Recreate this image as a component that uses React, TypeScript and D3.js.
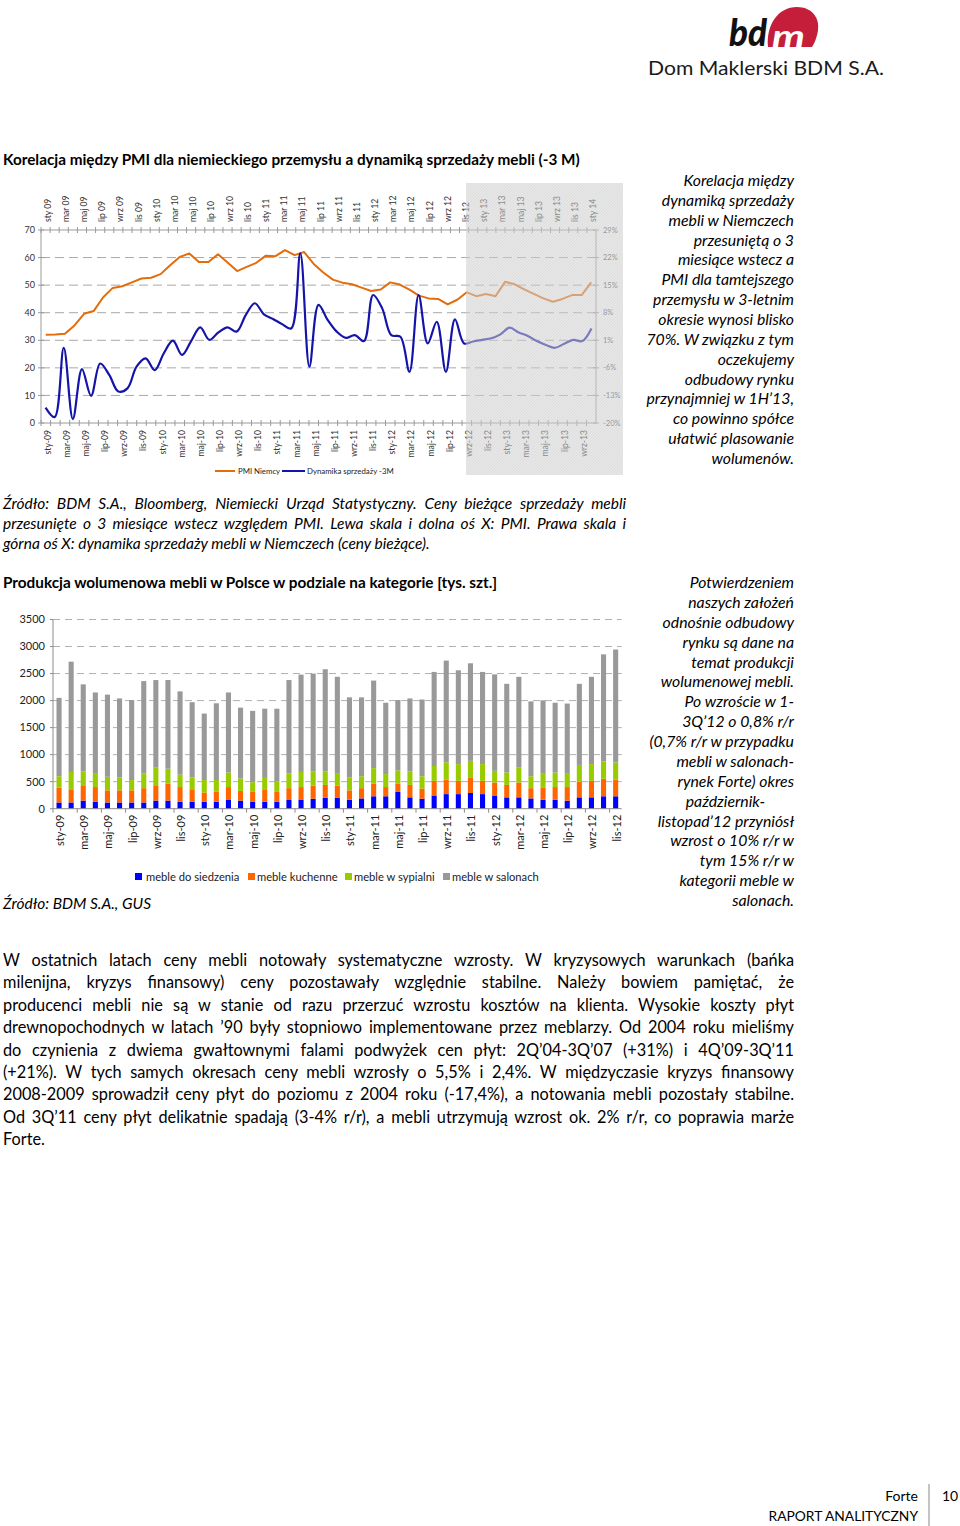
import React, { useLayoutEffect, useRef } from "react";
import * as d3 from "d3";

const FONT = "Lato, 'Open Sans', sans-serif";
const MONTHS = ["sty", "lut", "mar", "kwi", "maj", "cze", "lip", "sie", "wrz", "paź", "lis", "gru"];

function monthCats(n: number, sep: string): string[] {
  const out: string[] = [];
  for (let i = 0; i < n; i++) {
    const m = MONTHS[i % 12];
    const yy = String(9 + Math.floor(i / 12)).padStart(2, "0");
    out.push(m + sep + yy);
  }
  return out;
}

// Chart 1 categories
const bottomCats1 = monthCats(58, "-"); // sty-09 .. paź-13 (PMI)
const topCats1 = monthCats(61, " "); // sty 09 .. sty 14 (sales dynamics)
const leftTicks1 = [0, 10, 20, 30, 40, 50, 60, 70];
const rightTicks1 = [-20, -13, -6, 1, 8, 15, 22, 29];

// PMI Niemcy (left scale, bottom axis)
const pmiNiemcy = [
  32.0, 32.1, 32.4, 35.4, 39.6, 40.6, 45.6, 49.0, 49.6, 51.0, 52.4, 52.7,
  54.0, 57.2, 60.2, 61.5, 58.4, 58.4, 61.2, 58.2, 55.1, 56.6, 58.1, 60.7,
  60.5, 62.7, 60.9, 62.0, 57.7, 54.6, 52.0, 50.9, 50.3, 49.1, 47.9, 48.4,
  51.0, 50.2, 48.4, 46.2, 45.2, 45.0, 43.0, 44.7, 47.4, 46.0, 46.8, 46.0,
  51.2, 50.3, 48.5, 46.8, 45.2, 44.0, 45.0, 46.4, 46.4, 51.0,
];

// Dynamika sprzedaży -3M, % (right scale, top axis)
const dynamikaSprzedazy = [
  -16.1, -18.5, -0.9, -19.0, -6.3, -13.1, -4.9, -7.8, -12.0, -11.2, -5.7, -3.6,
  -6.6, -2.3, 0.9, -2.7, 0.8, 4.3, 1.1, 3.0, 4.3, 3.2, 7.4, 10.4,
  7.6, 6.4, 5.1, 4.0, 23.1, -5.7, 10.0, 6.2, 3.2, 1.6, 2.3, 0.8,
  12.5, 9.1, 2.3, 1.9, -7.0, 12.5, 0.2, 5.7, -7.0, 6.3, 0.2, 0.7,
  1.1, 1.5, 2.5, 4.2, 3.0, 2.1, 0.8, -0.2, -0.9, 0.1, 1.1, 0.8, 4.0,
];

// Chart 2
const cats2 = monthCats(47, "-"); // sty-09 .. lis-12
const yTicks2 = [0, 500, 1000, 1500, 2000, 2500, 3000, 3500];
const mebleDoSiedzenia = [
  115, 115, 150, 130, 115, 115, 115, 115, 150, 150, 130, 130, 130, 130, 170, 150,
  130, 130, 130, 170, 170, 185, 200, 200, 165, 190, 230, 230, 310, 210, 185, 245,
  270, 270, 290, 270, 245, 210, 210, 190, 165, 165, 148, 210, 210, 230, 230,
];
const mebleKuchenne = [
  275, 245, 270, 270, 225, 225, 225, 265, 270, 310, 270, 230, 170, 190, 230, 180,
  190, 230, 180, 210, 230, 240, 240, 225, 175, 190, 230, 170, 150, 230, 185, 270,
  265, 245, 290, 245, 240, 230, 275, 190, 230, 235, 252, 295, 305, 325, 305,
];
const mebleWSypialni = [
  210, 320, 270, 260, 250, 240, 190, 270, 340, 280, 230, 220, 230, 210, 270, 230,
  170, 210, 190, 270, 280, 265, 250, 235, 240, 220, 290, 240, 250, 250, 230, 275,
  325, 310, 305, 310, 215, 230, 275, 220, 265, 270, 245, 305, 310, 320, 320,
];
const mebleWSalonach = [
  1450, 2040, 1610, 1490, 1520, 1460, 1480, 1710, 1620, 1640, 1540, 1390, 1230, 1420, 1480, 1310,
  1320, 1280, 1350, 1730, 1800, 1810, 1890, 1780, 1480, 1460, 1620, 1320, 1300, 1350, 1420, 1740,
  1880, 1735, 1805, 1705, 1785, 1640, 1680, 1385, 1345, 1290, 1300, 1500, 1615, 1980, 2090,
];
const series2 = [
  { key: "siedz", name: "meble do siedzenia", color: "#0000ff", values: mebleDoSiedzenia },
  { key: "kuch", name: "meble kuchenne", color: "#ff6600", values: mebleKuchenne },
  { key: "syp", name: "meble w sypialni", color: "#99cc00", values: mebleWSypialni },
  { key: "sal", name: "meble w salonach", color: "#999999", values: mebleWSalonach },
];

// Texts
const title1 = "Korelacja między PMI dla niemieckiego przemysłu a dynamiką sprzedaży mebli (-3 M)";
const side1 = [
  "Korelacja między", "dynamiką sprzedaży", "mebli w Niemczech", "przesuniętą o 3",
  "miesiące wstecz a", "PMI dla tamtejszego", "przemysłu w 3-letnim", "okresie wynosi blisko",
  "70%. W związku z tym", "oczekujemy", "odbudowy rynku", "przynajmniej w 1H’13,",
  "co powinno spółce", "ułatwić plasowanie", "wolumenów.",
];
const source1 = [
  "Źródło: BDM S.A., Bloomberg, Niemiecki Urząd Statystyczny. Ceny bieżące sprzedaży mebli",
  "przesunięte o 3 miesiące wstecz względem PMI. Lewa skala i dolna oś X: PMI. Prawa skala i",
  "górna oś X: dynamika sprzedaży mebli w Niemczech (ceny bieżące).",
];
const title2 = "Produkcja wolumenowa mebli w Polsce w podziale na kategorie [tys. szt.]";
const side2 = [
  "Potwierdzeniem", "naszych założeń", "odnośnie odbudowy", "rynku są dane na",
  "temat produkcji", "wolumenowej mebli.", "Po wzroście w 1-", "3Q’12 o 0,8% r/r",
  "(0,7% r/r w przypadku", "mebli w salonach-", "rynek Forte) okres", "październik-",
  "listopad’12 przyniósł", "wzrost o 10% r/r w", "tym 15% r/r w", "kategorii meble w", "salonach.",
];
const source2 = "Źródło: BDM S.A., GUS";
const body = [
  "W ostatnich latach ceny mebli notowały systematyczne wzrosty. W kryzysowych warunkach (bańka",
  "milenijna, kryzys finansowy) ceny pozostawały względnie stabilne. Należy bowiem pamiętać, że",
  "producenci mebli nie są w stanie od razu przerzuć wzrostu kosztów na klienta. Wysokie koszty płyt",
  "drewnopochodnych w latach ’90 były stopniowo implementowane przez meblarzy. Od 2004 roku mieliśmy",
  "do czynienia z dwiema gwałtownymi falami podwyżek cen płyt: 2Q’04-3Q’07 (+31%) i 4Q’09-3Q’11",
  "(+21%). W tych samych okresach ceny mebli wzrosły o 5,5% i 2,4%. W międzyczasie kryzys finansowy",
  "2008-2009 sprowadził ceny płyt do poziomu z 2004 roku (-17,4%), a notowania mebli pozostały stabilne.",
  "Od 3Q’11 ceny płyt delikatnie spadają (3-4% r/r), a mebli utrzymują wzrost ok. 2% r/r, co poprawia marże",
  "Forte.",
];

function JLine(props: {
  x: number; y: number; width: number; text: string; size: number;
  italic?: boolean; justify?: boolean; fill?: string;
}) {
  const ref = useRef<SVGTextElement>(null);
  useLayoutEffect(() => {
    const apply = () => {
      const el = ref.current;
      if (!el || !props.justify) return;
      el.setAttribute("word-spacing", "0");
      const len = el.getComputedTextLength();
      const spaces = (props.text.match(/ /g) || []).length;
      if (spaces > 0) el.setAttribute("word-spacing", String((props.width - len) / spaces));
    };
    apply();
    if ((document as any).fonts) (document as any).fonts.ready.then(apply);
  }, [props.text, props.width, props.justify]);
  return (
    <text ref={ref} x={props.x} y={props.y} fontSize={props.size}
      fontStyle={props.italic ? "italic" : "normal"} fill={props.fill || "#000"} fontFamily={FONT}>
      {props.text}
    </text>
  );
}

function Chart1() {
  const L = 41, R = 596, T = 230, B = 423;
  const xB = d3.scaleBand<string>().domain(bottomCats1).range([L, R]);
  const xT = d3.scaleBand<string>().domain(topCats1).range([L, R]);
  const yL = d3.scaleLinear().domain([0, 70]).range([B, T]);
  const yR = d3.scaleLinear().domain([-20, 29]).range([B, T]);
  const cxB = (i: number) => (xB(bottomCats1[i]) as number) + xB.bandwidth() / 2;
  const cxT = (i: number) => (xT(topCats1[i]) as number) + xT.bandwidth() / 2;
  const orangePath = d3.line<number>().x((_, i) => cxB(i)).y((d) => yL(d))(pmiNiemcy) || "";
  const bluePath = d3.line<number>().x((_, i) => cxT(i)).y((d) => yR(d)).curve(d3.curveCatmullRom.alpha(0.5))(dynamikaSprzedazy) || "";
  const axisCol = "#9a9a9a";
  const lblCol = "#333";
  return (
    <g>
      <defs>
        <pattern id="hatch" width="3" height="3" patternUnits="userSpaceOnUse">
          <rect width="3" height="3" fill="#d2d2d2" />
          <path d="M0,3 L3,0" stroke="#bdbdbd" strokeWidth="0.7" />
        </pattern>
      </defs>
      {leftTicks1.filter((t) => t > 0 && t < 70).map((t) => (
        <line key={"g" + t} x1={L} x2={R} y1={yL(t)} y2={yL(t)} stroke="#a8a8a8" strokeWidth={1} strokeDasharray="9,5" />
      ))}
      <line x1={L} x2={R} y1={T} y2={T} stroke={axisCol} />
      <line x1={L} x2={R} y1={B} y2={B} stroke={axisCol} />
      <line x1={L} x2={L} y1={T} y2={B} stroke={axisCol} />
      <line x1={R} x2={R} y1={T} y2={B} stroke={axisCol} />
      {topCats1.map((c) => (
        <line key={"tt" + c} x1={xT(c)} x2={xT(c)} y1={T - 3} y2={T + 3} stroke={axisCol} />
      ))}
      {bottomCats1.map((c) => (
        <line key={"bt" + c} x1={xB(c)} x2={xB(c)} y1={B - 3} y2={B + 3} stroke={axisCol} />
      ))}
      {leftTicks1.map((t) => (
        <g key={"lt" + t}>
          <line x1={L - 3} x2={L + 3} y1={yL(t)} y2={yL(t)} stroke={axisCol} />
          <text x={35} y={yL(t)} dy="0.35em" textAnchor="end" fontSize={9} fill={lblCol} fontFamily={FONT}>{t}</text>
        </g>
      ))}
      {rightTicks1.map((t) => (
        <g key={"rt" + t}>
          <line x1={R - 3} x2={R + 3} y1={yR(t)} y2={yR(t)} stroke={axisCol} />
          <text x={603} y={yR(t)} dy="0.35em" textAnchor="start" fontSize={7.5} fill="#555" fontFamily={FONT}>{t + "%"}</text>
        </g>
      ))}
      {topCats1.map((c, i) => i % 2 === 0 ? (
        <text key={"tl" + c} transform={`translate(${cxT(i) + 2},${T - 8}) rotate(-90)`} dy="0.35em"
          textAnchor="start" fontSize={8.6} fill={lblCol} fontFamily={FONT}>{c}</text>
      ) : null)}
      {bottomCats1.map((c, i) => i % 2 === 0 ? (
        <text key={"bl" + c} transform={`translate(${cxB(i) + 2},${B + 7}) rotate(-90)`} dy="0.35em"
          textAnchor="end" fontSize={8.6} fill={lblCol} fontFamily={FONT}>{c}</text>
      ) : null)}
      <path d={orangePath} fill="none" stroke="#e46c0a" strokeWidth={2} strokeLinejoin="round" />
      <path d={bluePath} fill="none" stroke="#1414a8" strokeWidth={2.2} strokeLinejoin="round" />
      <line x1={215} x2={235} y1={471} y2={471} stroke="#e46c0a" strokeWidth={2} />
      <text x={238} y={471} dy="0.35em" fontSize={7.8} fill="#222" fontFamily={FONT}>PMI Niemcy</text>
      <line x1={282} x2={305} y1={471} y2={471} stroke="#1414a8" strokeWidth={2} />
      <text x={307} y={471} dy="0.35em" fontSize={7.8} fill="#222" fontFamily={FONT}>Dynamika sprzedaży -3M</text>
      <rect x={466} y={183} width={157} height={292} fill="url(#hatch)" opacity={0.55} />
    </g>
  );
}

function Chart2() {
  const L = 53, R = 621.7, B = 808.7, T = 619.5;
  const x = d3.scaleBand<string>().domain(cats2).range([L, R]).paddingInner(0.58).paddingOuter(0.29);
  const y = d3.scaleLinear().domain([0, 3500]).range([B, T]);
  const rows = cats2.map((c, i) => {
    const r: any = { cat: c };
    series2.forEach((s) => (r[s.key] = s.values[i]));
    return r;
  });
  const stacked = d3.stack<any>().keys(series2.map((s) => s.key))(rows);
  const step = x.step();
  return (
    <g>
      {yTicks2.filter((t) => t > 0).map((t) => (
        <line key={"g" + t} x1={L} x2={R} y1={y(t)} y2={y(t)} stroke="#b0b0b0" strokeDasharray="7,5" />
      ))}
      {stacked.map((layer, k) => (
        <g key={series2[k].key} fill={series2[k].color}>
          {layer.map((d, i) => (
            <rect key={i} x={x(cats2[i])} width={x.bandwidth()} y={y(d[1])} height={y(d[0]) - y(d[1])} />
          ))}
        </g>
      ))}
      <line x1={L} x2={L} y1={T} y2={B} stroke="#8c8c8c" />
      <line x1={L} x2={R} y1={B} y2={B} stroke="#8c8c8c" />
      {yTicks2.map((t) => (
        <g key={"yt" + t}>
          <line x1={L - 3} x2={L} y1={y(t)} y2={y(t)} stroke="#8c8c8c" />
          <text x={45} y={y(t)} dy="0.35em" textAnchor="end" fontSize={11} fill="#222" fontFamily={FONT}>{t}</text>
        </g>
      ))}
      {cats2.map((c, i) => i % 2 === 0 ? (
        <line key={"xt" + c} x1={L + i * step} x2={L + i * step} y1={B} y2={B + 4} stroke="#8c8c8c" />
      ) : null)}
      {cats2.map((c, i) => i % 2 === 0 ? (
        <text key={"xl" + c} transform={`translate(${(x(c) as number) + x.bandwidth() / 2 + 1},${B + 6}) rotate(-90)`}
          dy="0.35em" textAnchor="end" fontSize={11} fill="#222" fontFamily={FONT}>{c}</text>
      ) : null)}
      {[
        { x: 135, tx: 146 }, { x: 248, tx: 257 }, { x: 345, tx: 354 }, { x: 443, tx: 452 },
      ].map((p, k) => (
        <g key={"lg" + k}>
          <rect x={p.x} y={873} width={7} height={7} fill={series2[k].color} />
          <text x={p.tx} y={877} dy="0.35em" fontSize={11.2} fill="#222" fontFamily={FONT}>{series2[k].name}</text>
        </g>
      ))}
    </g>
  );
}

function Logo() {
  return (
    <g>
      <path d="M768,47 C766,25 778,7 797,7 C812,7 820,18 818,30 C817,38 814,44 812,47 Z" fill="#c41e3a" />
      <text x={729} y={46} fontSize={38} fontWeight={900} fontStyle="italic" fontFamily="Lato, sans-serif" fill="#111"
        textLength={38} lengthAdjust="spacingAndGlyphs">bd</text>
      <text x={772} y={47} fontSize={30} fontWeight={700} fontStyle="italic" fontFamily="Lato, sans-serif" fill="#fff"
        textLength={33} lengthAdjust="spacingAndGlyphs">m</text>
      <text x={648} y={75} fontSize={20} fontFamily="Lato, sans-serif" fill="#1a1a1a" textLength={236}
        lengthAdjust="spacingAndGlyphs">Dom Maklerski BDM S.A.</text>
    </g>
  );
}

export default function App() {
  return (
    <svg width={960} height={1526} style={{ position: "absolute", left: 0, top: 0, background: "#fff" }}
      fontFamily={FONT}>
      <rect x={0} y={0} width={960} height={1526} fill="#fff" />
      <Logo />
      <text x={3} y={165} fontSize={15.3} fontWeight={700} fontFamily={FONT} fill="#000">{title1}</text>
      <Chart1 />
      {side1.map((s, i) => (
        <text key={"s1" + i} x={794} y={186 + i * 19.86} textAnchor="end" fontSize={15.8} fontStyle="italic"
          fontFamily={FONT} fill="#000">{s}</text>
      ))}
      {source1.map((s, i) => (
        <JLine key={"src" + i} x={3} y={509 + i * 20} width={623} text={s} size={15.5} italic
          justify={i < source1.length - 1} />
      ))}
      <text x={3} y={588} fontSize={15.3} fontWeight={700} fontFamily={FONT} fill="#000">{title2}</text>
      <Chart2 />
      {side2.map((s, i) => (
        <text key={"s2" + i} x={s === "październik-" ? 765 : 794} y={588 + i * 19.875} textAnchor="end"
          fontSize={15.8} fontStyle="italic" fontFamily={FONT} fill="#000">{s}</text>
      ))}
      <text x={3} y={909} fontSize={15.5} fontStyle="italic" fontFamily={FONT} fill="#000">{source2}</text>
      {body.map((s, i) => (
        <JLine key={"b" + i} x={3} y={966 + i * 22.4} width={791} text={s} size={16.3}
          justify={i < body.length - 1} />
      ))}
      <text x={918} y={1501} textAnchor="end" fontSize={14} fontFamily={FONT} fill="#000">Forte</text>
      <text x={918} y={1521} textAnchor="end" fontSize={13.8} fontFamily={FONT} fill="#000">RAPORT ANALITYCZNY</text>
      <line x1={929} x2={929} y1={1484} y2={1526} stroke="#888" />
      <text x={942} y={1501} fontSize={14} fontFamily={FONT} fill="#000">10</text>
    </svg>
  );
}
